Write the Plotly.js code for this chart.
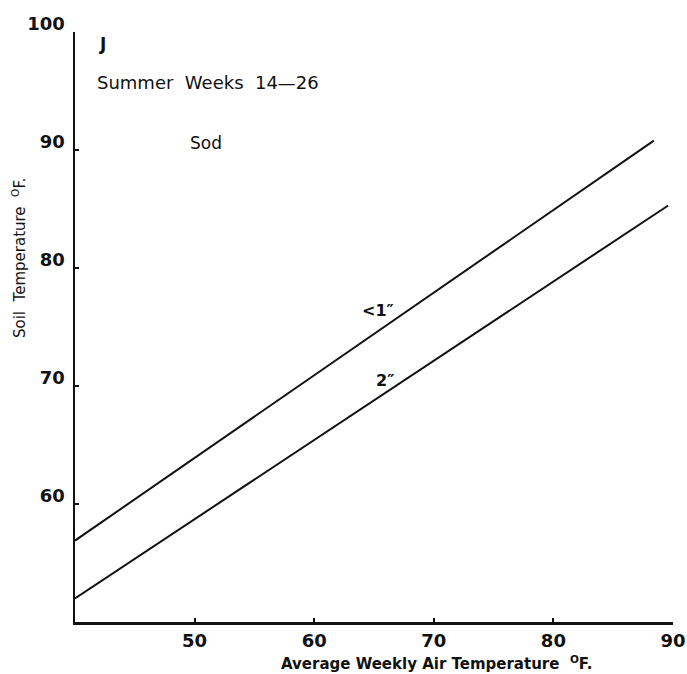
<!DOCTYPE html>
<html>
<head>
<meta charset="utf-8">
<script src="https://cdn.plot.ly/plotly-3.0.1.min.js"></script>
<style>html,body{margin:0;padding:0;background:#fff;}#chart{width:687px;height:674px;}</style>
</head>
<body>
<div id="chart"></div>
<script>
// Data
const seriesNames = ['<1\u2033', '2\u2033'];
const xLess1 = [40, 88.4];
const yLess1 = [56.9, 90.8];
const x2in = [40, 89.6];
const y2in = [52.0, 85.3];
const xTicks = [50, 60, 70, 80, 90];
const yTicks = [60, 70, 80, 90, 100];
const panelLabel = 'J';
const subtitle = 'Summer&nbsp;&nbsp;Weeks&nbsp;&nbsp;14\u201426';
const coverLabel = 'Sod';
const xTitle = 'Average Weekly Air Temperature&nbsp;&nbsp;<sup>O</sup>F.';
const yTitle = 'Soil&nbsp;&nbsp;Temperature&nbsp;&nbsp;<sup>O</sup>F.';
const seriesLabelPos = [[65.3, 76.4], [65.9, 70.5]];

const ink = '#111';
const fontFam = '"DejaVu Sans", sans-serif';

const traces = [
  {x: xLess1, y: yLess1, mode: 'lines', line: {color: ink, width: 2}, name: seriesNames[0], hoverinfo: 'skip'},
  {x: x2in, y: y2in, mode: 'lines', line: {color: ink, width: 2}, name: seriesNames[1], hoverinfo: 'skip'}
];

const L = 75, R = 14, T = 32, B = 52, W = 687, H = 674;
const pw = W - L - R, ph = H - T - B;
const px = v => (v - L) / pw;
const py = v => (H - B - v) / ph;

const annotations = [
  {x: px(97), y: py(44), xref: 'paper', yref: 'paper', text: panelLabel, showarrow: false, xanchor: 'left', yanchor: 'middle',
   font: {family: fontFam, size: 17, color: ink, weight: 'bold'}},
  {x: px(95), y: py(83), xref: 'paper', yref: 'paper', text: subtitle, showarrow: false, xanchor: 'left', yanchor: 'middle',
   font: {family: fontFam, size: 18, color: ink}},
  {x: px(206), y: py(143), xref: 'paper', yref: 'paper', text: coverLabel, showarrow: false, xanchor: 'center', yanchor: 'middle',
   font: {family: fontFam, size: 17, color: ink}},
  {x: seriesLabelPos[0][0], y: seriesLabelPos[0][1], xref: 'x', yref: 'y', text: seriesNames[0], showarrow: false,
   font: {family: fontFam, size: 16, color: ink, weight: 'bold'}},
  {x: seriesLabelPos[1][0], y: seriesLabelPos[1][1], xref: 'x', yref: 'y', text: seriesNames[1], showarrow: false,
   font: {family: fontFam, size: 16, color: ink, weight: 'bold'}},
  {x: px(437), y: py(663), xref: 'paper', yref: 'paper', text: xTitle, showarrow: false, xanchor: 'center', yanchor: 'middle',
   font: {family: fontFam, size: 15, color: ink, weight: 'bold'}},
  {x: px(19), y: py(258), xref: 'paper', yref: 'paper', text: yTitle, showarrow: false, textangle: -90, xanchor: 'center', yanchor: 'middle',
   font: {family: fontFam, size: 15, color: ink}}
];

const tickFont = {family: fontFam, size: 18, color: ink, weight: 'bold'};

const layout = {
  width: W, height: H,
  margin: {l: L, r: R, t: T, b: B, pad: 0},
  paper_bgcolor: '#fff', plot_bgcolor: '#fff',
  showlegend: false,
  xaxis: {range: [40, 90], tickvals: xTicks, ticktext: xTicks.map(String), showgrid: false, zeroline: false,
    showline: true, linecolor: ink, linewidth: 2.5, ticks: 'inside', ticklen: 4, tickwidth: 2, tickcolor: ink,
    tickfont: tickFont, ticklabelstandoff: 1},
  yaxis: {range: [50, 100], tickvals: yTicks, ticktext: yTicks.map(String), showgrid: false, zeroline: false,
    showline: true, linecolor: ink, linewidth: 2.5, ticks: 'inside', ticklen: 4, tickwidth: 2, tickcolor: ink,
    tickfont: tickFont, ticklabelshift: -8, ticklabelstandoff: 4},
  annotations: annotations
};

Plotly.newPlot('chart', traces, layout, {displayModeBar: false, staticPlot: true});
</script>
</body>
</html>
